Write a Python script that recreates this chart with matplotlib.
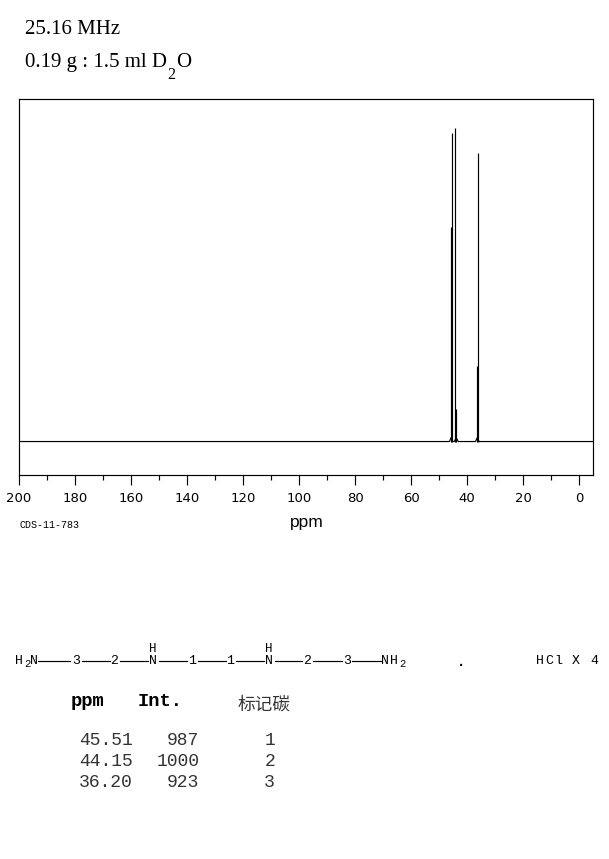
import matplotlib
matplotlib.use('Agg')
import matplotlib.pyplot as plt

# peak table
peak_ppm = [45.51, 44.15, 36.20]
peak_int = [987, 1000, 923]
carbon_no = [1, 2, 3]

# lower, wider part of each peak
shoulder_ppm = [45.75, 43.85, 36.40]
shoulder_int = [685, 103, 241]

# foot of the spectrum trace, ppm / intensity
foot_ppm = [200, 46.3, 45.75, 45.1, 44.6, 43.85, 43.2, 37.0, 36.40, 35.7, -5]
foot_int = [0, 0, 12, 0, 0, 12, 0, 0, 12, 0, 0]

x_major = [200, 180, 160, 140, 120, 100, 80, 60, 40, 20, 0]
x_minor = [190, 170, 150, 130, 110, 90, 70, 50, 30, 10]

W, H = 609, 859
fig = plt.figure(figsize=(W / 100, H / 100), dpi=100)

# --- spectrum ---
ax = fig.add_axes([19.1 / W, 1 - 475.5 / H, 574.0 / W, 376.5 / H])
ax.plot(foot_ppm, foot_int, color='black', lw=0.85)
ax.vlines(peak_ppm, 0, peak_int, color='black', lw=0.85)
ax.vlines(shoulder_ppm, 0, shoulder_int, color='black', lw=0.85)
ax.set_xlim(200, -5)
ax.set_ylim(-108.5, 1094)
ax.set_yticks([])
ax.set_xticks(x_major)
ax.set_xticks(x_minor, minor=True)
ax.tick_params(axis='x', which='major', length=7.5, width=0.85, labelsize=9.5, pad=4.3)
ax.tick_params(axis='x', which='minor', length=3.6, width=0.85)
for s in ax.spines.values():
    s.set_linewidth(0.85)

# --- page layer in pixel coordinates for all the text around the plot ---
page = fig.add_axes([0, 0, 1, 1], zorder=-1)
page.set_xlim(0, W)
page.set_ylim(H, 0)
page.axis('off')

serif = 'Liberation Serif'
mono = 'Liberation Mono'
page.text(25, 34, '25.16 MHz', family=serif, fontsize=15, va='baseline')
page.text(25, 67, '0.19 g : 1.5 ml D', family=serif, fontsize=15, va='baseline')
page.text(167, 79, '2', family=serif, fontsize=11.5, va='baseline')
page.text(176, 67, 'O', family=serif, fontsize=15, va='baseline')

page.text(306.5, 523, 'ppm', family='Liberation Sans', fontsize=12.5, ha='center', va='center')
page.text(19, 525, 'CDS-11-783', family=mono, fontsize=7.2, va='center')

# structure: atoms and bonds
y_s = 661
atoms = [(19, 'H'), (34, 'N'), (76, '3'), (114.5, '2'), (153, 'N'), (192, '1'), (230, '1'),
         (269, 'N'), (307, '2'), (347, '3'), (385, 'N'), (394, 'H')]
for xa, lab in atoms:
    page.text(xa, y_s, lab, family=mono, fontsize=9.5, ha='center', va='center')
for xa in (27, 402):
    page.text(xa, y_s + 3, '2', family=mono, fontsize=7.5, ha='center', va='center')
for xa in (153, 269):
    page.text(xa, y_s - 12, 'H', family=mono, fontsize=9, ha='center', va='center')
bonds = [(38, 70), (82, 110), (120, 148), (159, 187), (198, 226), (236, 264), (275, 302), (313, 342), (352, 381)]
for x0, x1 in bonds:
    page.plot([x0, x1], [y_s, y_s], color='black', lw=0.85)
page.text(461, y_s + 1, '.', family=mono, fontsize=10, fontweight='bold', ha='center', va='center')
for xa, lab in [(540, 'H'), (549, 'C'), (558, 'l'), (576, 'X'), (594, '4')]:
    page.text(xa, y_s, lab, family=mono, fontsize=9.5, ha='center', va='center')

# peak table
page.text(71, 706, 'ppm', family=mono, fontsize=13.5, fontweight='bold', va='baseline')
page.text(138, 706, 'Int.', family=mono, fontsize=13.5, fontweight='bold', va='baseline')
page.text(238, 705, '标记碳', family=['Noto Sans CJK SC', 'DejaVu Sans'], fontsize=12.7, color='#333333', va='center')
for y_row, p, i, c in zip([745, 766, 787], peak_ppm, peak_int, carbon_no):
    page.text(79, y_row, f'{p:.2f}', family=mono, fontsize=13, color='#333333', va='baseline')
    page.text(199.5, y_row, str(i), family=mono, fontsize=13, color='#333333', ha='right', va='baseline')
    page.text(275, y_row, str(c), family=mono, fontsize=13, color='#333333', ha='right', va='baseline')

fig.savefig('out.png', dpi=100)
plt.close(fig)
